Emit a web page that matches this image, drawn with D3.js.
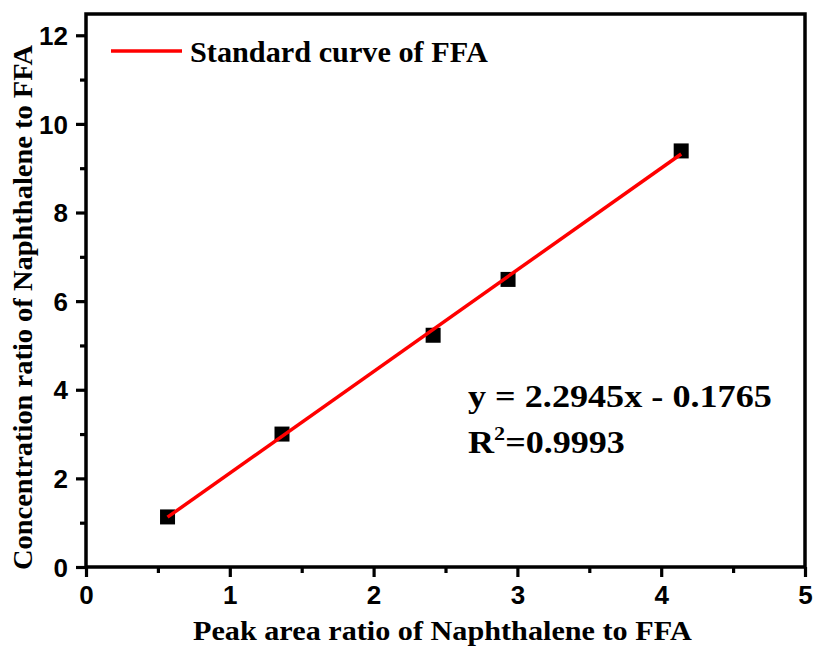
<!DOCTYPE html>
<html>
<head>
<meta charset="utf-8">
<script src="https://cdn.jsdelivr.net/npm/d3@7"></script>
<style>
  body { margin: 0; background: #fff; }
  svg { display: block; }
</style>
</head>
<body>
<div id="chart"></div>
<script>
// measured points: peak area ratio vs concentration ratio
var xValues = [0.567, 1.363, 2.414, 2.935, 4.139];
var yValues = [1.13, 3.0, 5.23, 6.49, 9.39];
var fitSlope = 2.2945;
var fitIntercept = -0.1765;
var rSquared = '0.9993';
var xTicks = [0, 1, 2, 3, 4, 5];
var yTicks = [0, 2, 4, 6, 8, 10, 12];
var legendLabel = 'Standard curve of FFA';
var xTitle = 'Peak area ratio of Naphthalene to FFA';
var yTitle = 'Concentration ratio of Naphthalene to FFA';

var width = 820, height = 651;
var margin = { left: 86, right: 15, top: 14, bottom: 84 };
var yMax = 12.48;

var svg = d3.select('#chart').append('svg')
  .attr('width', width)
  .attr('height', height);

var x = d3.scaleLinear().domain([0, 5]).range([margin.left, width - margin.right]);
var y = d3.scaleLinear().domain([0, yMax]).range([height - margin.bottom, margin.top]);

var serif = "'Liberation Serif', 'Times New Roman', serif";
var sans = "'Liberation Sans', Arial, sans-serif";

// stretch a text horizontally so it spans the width seen in the original
function fitWidth(sel, target) {
  var w = sel.node().getComputedTextLength();
  var tx = +sel.attr('x'), ty = +sel.attr('y');
  sel.attr('transform', 'translate(' + tx + ',' + ty + ') scale(' + (target / w) + ',1) translate(' + (-tx) + ',' + (-ty) + ')');
}

// frame
svg.append('rect')
  .attr('x', x(0)).attr('y', y(yMax))
  .attr('width', x(5) - x(0)).attr('height', y(0) - y(yMax))
  .attr('fill', 'none').attr('stroke', '#000').attr('stroke-width', 3.5);

// x axis
var xAxis = svg.append('g')
  .attr('transform', 'translate(0,' + y(0) + ')')
  .call(d3.axisBottom(x).tickValues(xTicks).tickFormat(d3.format('d')).tickSize(10).tickPadding(9));
svg.append('g')
  .attr('transform', 'translate(0,' + y(0) + ')')
  .call(d3.axisBottom(x).tickValues(d3.range(0.5, 5, 1)).tickFormat('').tickSize(6));

// y axis
var yAxis = svg.append('g')
  .attr('transform', 'translate(' + x(0) + ',0)')
  .call(d3.axisLeft(y).tickValues(yTicks).tickFormat(d3.format('d')).tickSize(10).tickPadding(8));
svg.append('g')
  .attr('transform', 'translate(' + x(0) + ',0)')
  .call(d3.axisLeft(y).tickValues(d3.range(1, 12, 2)).tickFormat('').tickSize(6));

svg.selectAll('.domain').remove();
svg.selectAll('.tick line').attr('stroke', '#000').attr('stroke-width', 3.2);
xAxis.selectAll('text')
  .attr('font-family', sans).attr('font-weight', 'bold').attr('font-size', 26).attr('fill', '#000');
yAxis.selectAll('text')
  .attr('font-family', sans).attr('font-weight', 'bold').attr('font-size', 26).attr('fill', '#000')
  .attr('dy', '0.35em');

// markers
var sz = 15;
svg.selectAll('rect.pt')
  .data(d3.zip(xValues, yValues))
  .enter().append('rect')
  .attr('class', 'pt')
  .attr('x', function(d) { return x(d[0]) - sz / 2; })
  .attr('y', function(d) { return y(d[1]) - sz / 2; })
  .attr('width', sz).attr('height', sz)
  .attr('fill', '#000');

// fitted line across the data range, on top of the markers
var fitX = d3.extent(xValues);
svg.append('line')
  .attr('x1', x(fitX[0])).attr('y1', y(fitSlope * fitX[0] + fitIntercept))
  .attr('x2', x(fitX[1])).attr('y2', y(fitSlope * fitX[1] + fitIntercept))
  .attr('stroke', '#ff0000').attr('stroke-width', 3.5);

// legend
svg.append('line')
  .attr('x1', 111).attr('x2', 182).attr('y1', 51).attr('y2', 51)
  .attr('stroke', '#ff0000').attr('stroke-width', 3.5);
var leg = svg.append('text')
  .attr('x', 190).attr('y', 62)
  .attr('font-family', serif).attr('font-weight', 'bold').attr('font-size', 30)
  .text(legendLabel);
fitWidth(leg, 298);

// equation
var eq = svg.append('text')
  .attr('x', 468).attr('y', 407)
  .attr('font-family', serif).attr('font-weight', 'bold').attr('font-size', 31)
  .text('y = ' + fitSlope + 'x - ' + Math.abs(fitIntercept));
fitWidth(eq, 304);
var r2 = svg.append('text')
  .attr('x', 468).attr('y', 453)
  .attr('font-family', serif).attr('font-weight', 'bold').attr('font-size', 31);
r2.append('tspan').text('R');
r2.append('tspan').attr('font-size', 19).attr('dy', -13).text('2');
r2.append('tspan').attr('dy', 13).text('=' + rSquared);
fitWidth(r2, 157);

// axis titles
var xt = svg.append('text')
  .attr('x', 193).attr('y', 640)
  .attr('font-family', serif).attr('font-weight', 'bold').attr('font-size', 28)
  .text(xTitle);
fitWidth(xt, 499);
svg.append('text')
  .attr('transform', 'translate(32,570) rotate(-90)')
  .attr('font-family', serif).attr('font-weight', 'bold').attr('font-size', 28)
  .attr('textLength', 525).attr('lengthAdjust', 'spacingAndGlyphs')
  .text(yTitle);
</script>
</body>
</html>
